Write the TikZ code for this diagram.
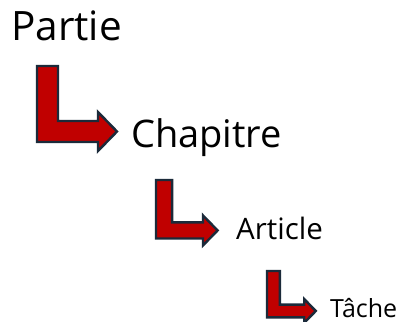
\documentclass[tikz,border=0pt]{standalone}
\usepackage{fontspec}
\setmainfont{Open Sans}
\definecolor{arrowred}{HTML}{C00000}
\definecolor{arrowline}{HTML}{1B2A3A}
\tikzset{
  larrow/.style={fill=arrowred, draw=arrowline, line width=2.4pt, line join=miter},
  lbl/.style={anchor=base west, inner sep=0pt, text=black},
  pics/bentarrow/.style={code={
    \draw[larrow] (0,0) -- (21,0) -- (21,-55) -- (61,-55) -- (61,-46) -- (80,-65.5)
      -- (61,-85) -- (61,-76) -- (0,-76) -- cycle;
  }}
}
\begin{document}
\begin{tikzpicture}[x=1pt,y=1pt]
\useasboundingbox (0,0) rectangle (406,-321);
\node[lbl, font=\fontsize{40.5}{40.5}\selectfont] (partie) at (11,-41) {Partie};
\node[lbl, font=\fontsize{38}{38}\selectfont] (chapitre) at (131,-147) {Chapitre};
\node[lbl, font=\fontsize{29.5}{29.5}\selectfont] (article) at (236,-239) {Article};
\node[lbl, font=\fontsize{25}{25}\selectfont] (tache) at (330,-317) {Tâche};
\pic[shift={(37,-66)}] (a1) {bentarrow};
\pic[shift={(156,-180)}, scale=0.77] (a2) {bentarrow};
\pic[shift={(267,-271)}, scale=0.61] (a3) {bentarrow};
\end{tikzpicture}
\end{document}
